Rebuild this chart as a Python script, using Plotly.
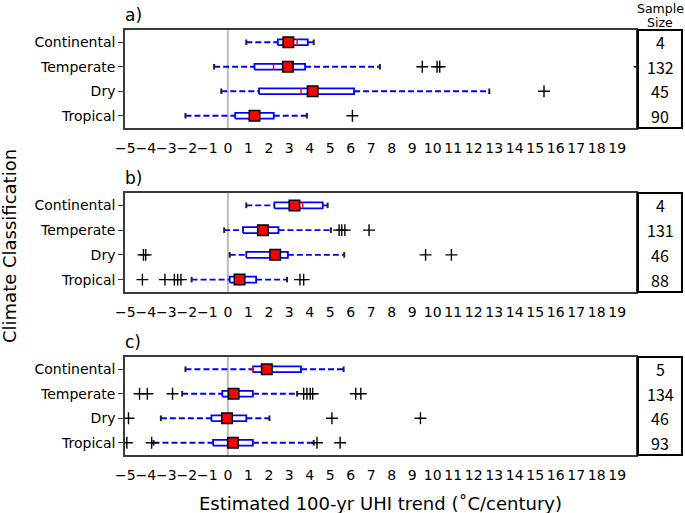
import plotly.graph_objects as go

categories = ["Continental", "Temperate", "Dry", "Tropical"]
panel_labels = ["a)", "b)", "c)"]
x_ticks = list(range(-5, 20))

# Panel a
a_low = [0.90, -0.67, -0.32, -2.07]
a_q1 = [2.44, 1.30, 1.52, 0.36]
a_med = [3.38, 2.23, 3.57, 1.20]
a_q3 = [3.90, 3.77, 6.16, 2.24]
a_high = [4.19, 7.42, 12.76, 3.86]
a_mean = [2.95, 2.93, 4.14, 1.30]
a_out = [[], [9.49, 10.21, 10.34, 20.1], [15.43], [6.08]]
a_n = [4, 132, 45, 90]

# Panel b
b_low = [0.90, -0.18, 0.09, -1.77]
b_q1 = [2.27, 0.74, 0.90, 0.09]
b_med = [3.65, 1.55, 2.20, 0.50]
b_q3 = [4.63, 2.47, 2.93, 1.38]
b_high = [4.87, 5.03, 5.68, 2.89]
b_mean = [3.25, 1.71, 2.31, 0.57]
b_out = [[], [5.43, 5.56, 5.71, 6.89], [-4.12, -4.01, 9.65, 10.91],
         [-4.17, -3.07, -2.61, -2.45, -2.29, 3.52, 3.70]]
b_n = [4, 131, 46, 88]

# Panel c
c_low = [-2.07, -2.23, -3.27, -3.63]
c_q1 = [1.22, -0.27, -0.80, -0.72]
c_med = [1.22, 0.20, -0.05, 0.20]
c_q3 = [3.57, 1.22, 0.90, 1.22]
c_high = [5.65, 3.38, 2.03, 4.19]
c_mean = [1.90, 0.28, -0.04, 0.25]
c_out = [[], [-4.31, -3.93, -2.70, 3.70, 3.86, 4.02, 4.14, 6.24, 6.49],
         [-4.85, 5.08, 9.40], [-4.93, -3.72, 4.35, 5.48]]
c_n = [5, 134, 46, 93]

panels = [
    (a_low, a_q1, a_med, a_q3, a_high, a_mean, a_out, a_n),
    (b_low, b_q1, b_med, b_q3, b_high, b_mean, b_out, b_n),
    (c_low, c_q1, c_med, c_q3, c_high, c_mean, c_out, c_n),
]

W, H = 685, 513
ML, MR, MT, MB = 125, 49, 30, 58
plot_h = H - MT - MB
plot_w = W - ML - MR
# pixel extents of panels (top, bottom)
panel_px = [(30, 128), (193, 292), (357, 455)]
domains = [[(H - MB - b) / plot_h, (H - MB - t) / plot_h] for t, b in panel_px]

BLUE = "#0000ff"
HALF = 0.12
fig = go.Figure()

for p, (lo, q1, med, q3, hi, mean, out, n) in enumerate(panels):
    sfx = "" if p == 0 else str(p + 1)
    xa, ya = "x" + sfx, "y" + sfx
    ypos = [len(categories) - i for i in range(len(categories))]

    wx, wy, bx, by, mx, my, cx, cy, ox, oy = [], [], [], [], [], [], [], [], [], []
    for i, y in enumerate(ypos):
        wx += [lo[i], q1[i], None, q3[i], hi[i], None]
        wy += [y, y, None, y, y, None]
        bx += [q1[i], q3[i], q3[i], q1[i], q1[i], None]
        by += [y - HALF, y - HALF, y + HALF, y + HALF, y - HALF, None]
        mx += [med[i], med[i], None]
        my += [y - HALF, y + HALF, None]
        cx += [lo[i], hi[i]]
        cy += [y, y]
        for v in out[i]:
            ox.append(v)
            oy.append(y)

    fig.add_trace(go.Scatter(x=wx, y=wy, mode="lines", xaxis=xa, yaxis=ya,
                             line=dict(color=BLUE, width=1.8, dash="6px,3px"),
                             hoverinfo="skip"))
    fig.add_trace(go.Scatter(x=bx, y=by, mode="lines", xaxis=xa, yaxis=ya,
                             line=dict(color=BLUE, width=1.8), hoverinfo="skip"))
    fig.add_trace(go.Scatter(x=mx, y=my, mode="lines", xaxis=xa, yaxis=ya,
                             line=dict(color="#ff0000", width=1.5), hoverinfo="skip"))
    fig.add_trace(go.Scatter(x=cx, y=cy, mode="markers", xaxis=xa, yaxis=ya,
                             marker=dict(symbol="line-ns-open", size=4, color="#222222",
                                         line=dict(color="#222222", width=2)),
                             hoverinfo="skip"))
    fig.add_trace(go.Scatter(x=ox, y=oy, mode="markers", xaxis=xa, yaxis=ya,
                             marker=dict(symbol="cross-thin-open", size=8.5, color="black",
                                         line=dict(color="black", width=1.4)),
                             hoverinfo="skip"))
    fig.add_trace(go.Scatter(x=mean, y=ypos, mode="markers", xaxis=xa, yaxis=ya,
                             marker=dict(symbol="square", size=10.5, color="#ff0000",
                                         line=dict(color="black", width=1.5)),
                             hoverinfo="skip"))

    xkey = "xaxis" + sfx
    ykey = "yaxis" + sfx
    fig.layout[xkey] = dict(
        domain=[0, 1], anchor=ya, range=[-5.02, 19.92],
        tickmode="array", tickvals=x_ticks,
        ticktext=[str(t).replace("-", "\u2212") for t in x_ticks],
        tickangle=0,
        ticks="outside", ticklen=6, tickcolor="rgba(0,0,0,0)",
        showgrid=False, zeroline=False, showline=True, mirror=True,
        linecolor="#3a3a3a", linewidth=1.5,
        tickfont=dict(family="DejaVu Sans", size=14, color="black"),
    )
    fig.layout[ykey] = dict(
        domain=domains[p], anchor=xa, range=[0.5, 4.5],
        tickmode="array", tickvals=ypos, ticktext=categories,
        ticks="outside", ticklen=5, tickcolor="#3a3a3a", tickwidth=1,
        showgrid=False, zeroline=False, showline=True, mirror=True,
        linecolor="#3a3a3a", linewidth=1.5,
        tickfont=dict(family="DejaVu Sans", size=14, color="black"),
    )

    # zero reference line
    fig.add_shape(type="line", xref=xa, yref=ya + " domain", x0=0, x1=0, y0=0, y1=1,
                  line=dict(color="#bdbdbd", width=2), layer="below")
    # sample size box
    fig.add_shape(type="rect", xref="paper", yref=ya + " domain",
                  x0=1.0039, x1=1.090, y0=0, y1=1,
                  line=dict(color="black", width=2))
    for i, y in enumerate(ypos):
        fig.add_annotation(xref="paper", yref=ya, x=1.047, y=y, text=str(n[i]),
                           showarrow=False, xanchor="center", yanchor="middle",
                           font=dict(family="Noto Sans CJK JP", size=16, color="black"))
    # panel label
    fig.add_annotation(xref="paper", yref="paper", x=-0.003, y=domains[p][1],
                       text=panel_labels[p], showarrow=False, xanchor="left",
                       yanchor="middle", yshift=15,
                       font=dict(family="DejaVu Sans", size=17, color="black"))

fig.add_annotation(xref="paper", yref="paper", x=1.047, y=1.0, yshift=22,
                   text="Sample", showarrow=False, xanchor="center",
                   yanchor="middle",
                   font=dict(family="DejaVu Sans", size=12.5, color="black"))
fig.add_annotation(xref="paper", yref="paper", x=1.047, y=1.0, yshift=8,
                   text="Size", showarrow=False, xanchor="center",
                   yanchor="middle",
                   font=dict(family="DejaVu Sans", size=12.5, color="black"))

fig.add_annotation(xref="paper", yref="paper", x=0.5, y=(H - MB - 503) / plot_h,
                   text="Estimated 100-yr UHI trend (\u02daC/century)", showarrow=False,
                   xanchor="center", yanchor="middle",
                   font=dict(family="DejaVu Sans", size=18, color="black"))
fig.add_annotation(xref="paper", yref="paper", x=(9 - ML) / plot_w, y=(H - MB - 246) / plot_h,
                   text="Climate Classification", showarrow=False, textangle=-90,
                   xanchor="center", yanchor="middle",
                   font=dict(family="DejaVu Sans", size=18, color="black"))

fig.update_layout(
    width=W, height=H, showlegend=False,
    margin=dict(l=ML, r=MR, t=MT, b=MB, pad=0),
    plot_bgcolor="white", paper_bgcolor="white",
)

fig.write_html("out.html", config={"displayModeBar": False},
               post_script="document.body.style.margin='0';document.body.style.overflow='hidden';")
